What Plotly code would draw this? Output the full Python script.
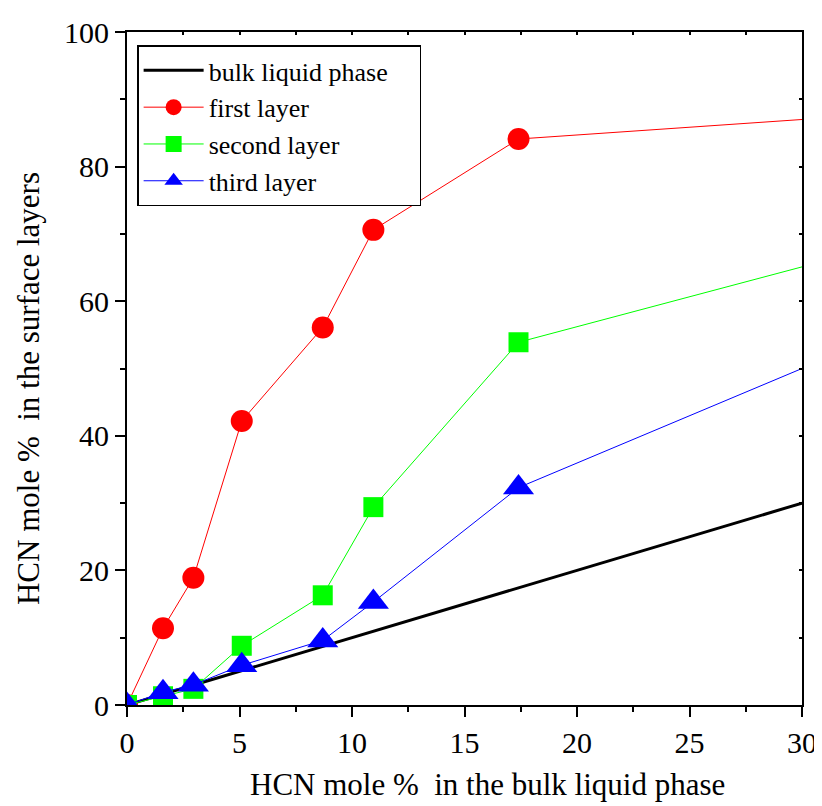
import plotly.graph_objects as go

bulk_x = [0, 30]
bulk_y = [0, 30]

layer_x = [0, 1.6, 2.95, 5.1, 8.7, 10.95, 17.4, 30]
first_y = [0, 11.4, 18.9, 42.2, 56.1, 70.6, 84.1, 87.0]
second_y = [0, 1.3, 2.4, 8.8, 16.3, 29.4, 53.9, 65.1]
third_y = [0, 1.9, 3.0, 5.9, 9.6, 15.3, 32.3, 50.0]

x_title = "HCN mole %\u00a0\u00a0in the bulk liquid phase"
y_title = "HCN mole %\u00a0\u00a0in the surface layers"

font_family = "Liberation Serif"
n = len(layer_x)

fig = go.Figure()

fig.add_trace(go.Scatter(x=bulk_x, y=bulk_y, mode="lines", name="bulk liquid phase\u00a0\u00a0\u00a0\u00a0",
                         line=dict(color="black", width=3)))
fig.add_trace(go.Scatter(x=layer_x, y=first_y, mode="lines+markers", name="first layer",
                         line=dict(color="#ff0000", width=1),
                         marker=dict(symbol="circle", size=[22] * (n - 1) + [0], color="#ff0000",
                                     opacity=1, line=dict(width=0))))
fig.add_trace(go.Scatter(x=layer_x, y=second_y, mode="lines+markers", name="second layer",
                         line=dict(color="#00ff00", width=1),
                         marker=dict(symbol="square", size=[20] * (n - 1) + [0], color="#00ff00",
                                     opacity=1, line=dict(width=0))))
fig.add_trace(go.Scatter(x=layer_x, y=third_y, mode="lines+markers", name="third layer",
                         line=dict(color="#0000ff", width=1),
                         marker=dict(symbol="triangle-up", size=[27] * (n - 1) + [0], color="#0000ff",
                                     opacity=1, line=dict(width=0))))
# invisible trace to anchor the top/right mirror axes
fig.add_trace(go.Scatter(x=[0], y=[0], xaxis="x2", yaxis="y2", mode="markers",
                         marker=dict(opacity=0), showlegend=False, hoverinfo="skip"))

axis_common = dict(showgrid=False, zeroline=False, showline=True, linecolor="black", linewidth=2,
                   tickcolor="black", tickwidth=2, ticklen=10, ticks="outside", automargin=False,
                   tickfont=dict(family=font_family, size=30, color="black"))

fig.update_layout(
    width=822, height=806,
    margin=dict(l=119, r=28, t=24, b=109),
    paper_bgcolor="white", plot_bgcolor="white",
    font=dict(family=font_family, color="black"),
    xaxis=dict(range=[0, 30], tick0=0, dtick=5,
               minor=dict(ticks="outside", ticklen=5, tickwidth=1.5, tickcolor="black", dtick=2.5),
               **axis_common),
    yaxis=dict(range=[0, 100], tick0=0, dtick=20,
               minor=dict(ticks="outside", ticklen=5, tickwidth=1.5, tickcolor="black", dtick=10),
               **axis_common),
    xaxis2=dict(range=[0, 30], overlaying="x", side="top", showgrid=False, zeroline=False,
                showline=True, linecolor="black", linewidth=2, ticks="inside", ticklen=3,
                tickwidth=1.5, tickcolor="black", dtick=2.5, tick0=0, showticklabels=False),
    yaxis2=dict(range=[0, 100], overlaying="y", side="right", showgrid=False, zeroline=False,
                showline=True, linecolor="black", linewidth=2, ticks="inside", ticklen=3,
                tickwidth=1.5, tickcolor="black", dtick=10, tick0=0, showticklabels=False),
    legend=dict(x=0.015, y=0.98, xanchor="left", yanchor="top",
                bgcolor="white", bordercolor="black", borderwidth=1.5,
                font=dict(family=font_family, size=26, color="black"),
                tracegroupgap=0, itemwidth=60),
    showlegend=True,
    annotations=[
        dict(text=x_title, xref="paper", yref="paper", x=0.534, y=0, xanchor="center",
             yanchor="middle", yshift=-79, showarrow=False,
             font=dict(family=font_family, size=31, color="black")),
        dict(text=y_title, xref="paper", yref="paper", x=0, y=0.4695, xanchor="center",
             yanchor="middle", xshift=-99, textangle=-90, showarrow=False,
             font=dict(family=font_family, size=31, color="black")),
    ],
)

fig.write_html("out.html")
